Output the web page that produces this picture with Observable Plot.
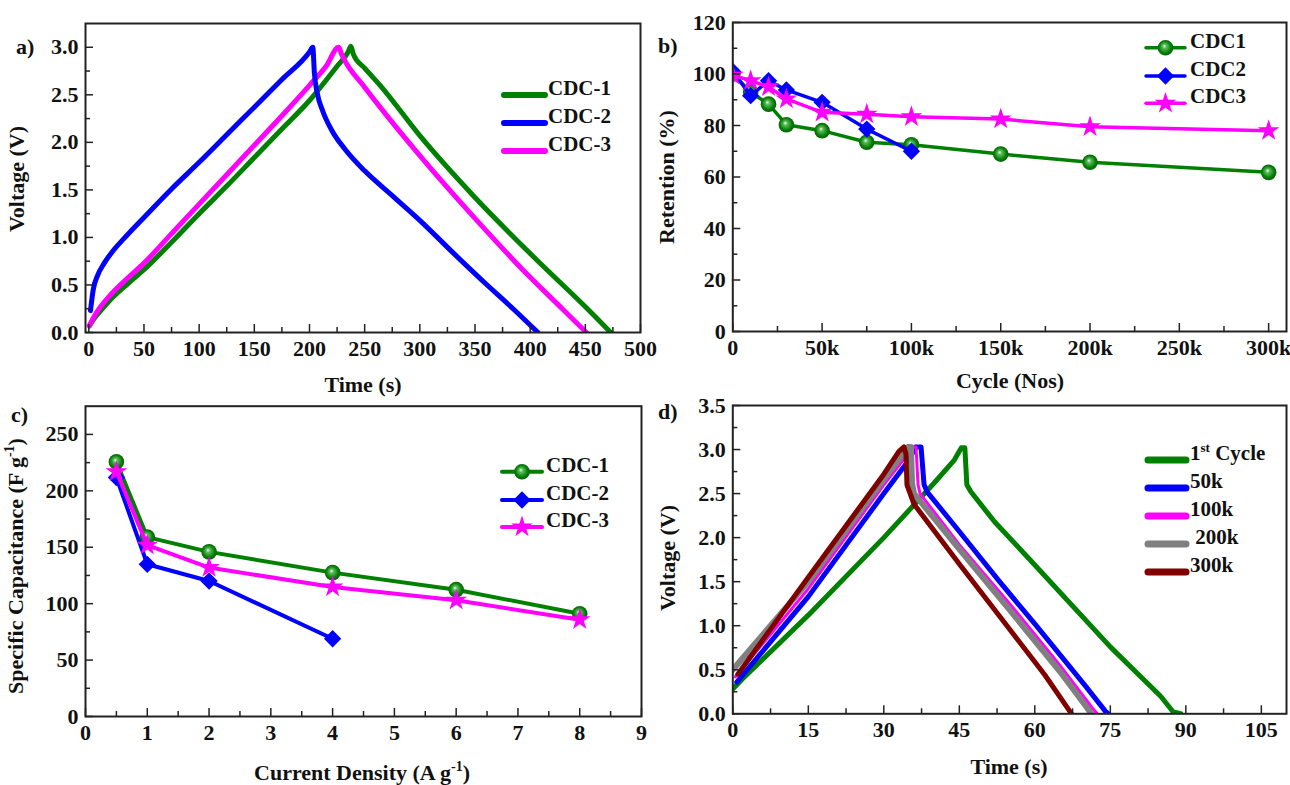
<!DOCTYPE html>
<html><head><meta charset="utf-8">
<script src="https://cdn.jsdelivr.net/npm/d3@7"></script>
<script src="https://cdn.jsdelivr.net/npm/@observablehq/plot@0.6"></script>
<style>
body{margin:0;background:#fff;}
#wrap{position:relative;width:1290px;height:785px;overflow:hidden;background:#fff;font-family:"Liberation Serif","Times New Roman",serif;}
#wrap svg{position:absolute;max-width:none;}
</style></head><body><div id="wrap"></div>
<script>
// ---------- Panel a: GCD curves (Time s, Voltage V) ----------
const aTimeCDC1 = [0.5, 5, 10, 20, 35, 50, 75, 100, 125, 150, 175, 200, 225, 235, 237.5, 240, 250, 264, 300, 350, 400, 450, 473];
const aVoltCDC1 = [0.07, 0.15, 0.22, 0.35, 0.51, 0.66, 0.95, 1.25, 1.54, 1.84, 2.14, 2.44, 2.80, 2.95, 3.01, 2.92, 2.78, 2.60, 2.07, 1.42, 0.83, 0.27, 0];
const aTimeCDC2 = [1.5, 4, 8, 14, 22, 32, 50, 75, 100, 125, 150, 175, 200, 203, 204.5, 207, 212, 220, 232, 250, 275, 300, 330, 360, 385, 407];
const aVoltCDC2 = [0.23, 0.45, 0.60, 0.73, 0.86, 0.99, 1.21, 1.51, 1.79, 2.08, 2.37, 2.66, 2.95, 3.0, 2.72, 2.52, 2.33, 2.13, 1.93, 1.70, 1.44, 1.18, 0.84, 0.51, 0.245, 0];
const aTimeCDC3 = [0.5, 5, 10, 20, 35, 50, 75, 100, 125, 150, 175, 200, 215, 226.5, 229, 250, 264, 300, 350, 400, 430, 451];
const aVoltCDC3 = [0.07, 0.17, 0.26, 0.40, 0.57, 0.73, 1.04, 1.35, 1.66, 1.97, 2.28, 2.60, 2.80, 3.0, 2.93, 2.58, 2.37, 1.86, 1.20, 0.58, 0.24, 0];

// ---------- Panel b: Retention vs cycles ----------
const bCycleCDC1 = [0, 10000, 20000, 30000, 50000, 75000, 100000, 150000, 200000, 300000];
const bRetCDC1   = [100, 93, 88.3, 80.3, 78, 73.5, 72.5, 68.9, 65.7, 61.8];
const bCycleCDC2 = [0, 10000, 20000, 30000, 50000, 75000, 100000];
const bRetCDC2   = [101, 91.6, 97.4, 93.8, 89, 78.6, 70];
const bCycleCDC3 = [0, 10000, 20000, 30000, 50000, 75000, 100000, 150000, 200000, 300000];
const bRetCDC3   = [99.5, 97.4, 95, 90.3, 85.1, 84.4, 83.4, 82.5, 79.5, 78];

// ---------- Panel c: Specific capacitance vs current density ----------
const cDensity13 = [0.5, 1, 2, 4, 6, 8];
const cCapCDC1   = [225.7, 159, 145.9, 127.5, 112.4, 91];
const cDensity2  = [0.5, 1, 2, 4];
const cCapCDC2   = [211.8, 134.9, 120.1, 68.9];
const cCapCDC3   = [216.9, 151.8, 132, 114.8, 103, 85.8];

// ---------- Panel d: GCD at different cycles ----------
const dTime1st  = [0, 2, 15, 30, 40, 44, 45.4, 46.1, 46.5, 47.3, 52, 60, 75, 85, 87.5, 89];
const dVolt1st  = [0.28, 0.40, 1.12, 2.0, 2.62, 2.88, 3.02, 3.02, 2.60, 2.52, 2.18, 1.69, 0.76, 0.20, 0.02, 0];
const dTime50k  = [0.8, 15, 30, 35, 36.3, 37.4, 38.0, 38.6, 45, 53, 60, 70, 74, 74.6];
const dVolt50k  = [0.36, 1.33, 2.50, 2.88, 3.03, 3.03, 2.60, 2.52, 2.07, 1.50, 1.02, 0.32, 0.03, 0];
const dTime100k = [0.5, 15, 30, 34.5, 35.6, 36.4, 36.8, 37.2, 45, 55, 65, 71.5, 72.4];
const dVolt100k = [0.42, 1.42, 2.60, 2.93, 3.03, 3.03, 2.60, 2.50, 1.92, 1.25, 0.55, 0.06, 0];
const dTime200k = [0, 15, 30, 33.8, 34.8, 35.4, 35.6, 36.0, 45, 55, 65, 70.5, 71.2];
const dVolt200k = [0.50, 1.50, 2.66, 2.95, 3.03, 3.03, 2.62, 2.50, 1.87, 1.18, 0.48, 0.06, 0];
const dTime300k = [1, 15, 30, 33.0, 34.0, 34.4, 34.6, 36, 45, 55, 62, 67.3];
const dVolt300k = [0.45, 1.55, 2.72, 2.98, 3.03, 2.95, 2.60, 2.38, 1.70, 0.96, 0.44, 0];

// ---------- Ticks ----------
const aXTicks = [0, 50, 100, 150, 200, 250, 300, 350, 400, 450, 500];
const aYTicks = [0, 0.5, 1.0, 1.5, 2.0, 2.5, 3.0];
const bXTicks = [0, 50000, 100000, 150000, 200000, 250000, 300000];
const bYTicks = [0, 20, 40, 60, 80, 100, 120];
const cXTicks = [0, 1, 2, 3, 4, 5, 6, 7, 8, 9];
const cYTicks = [0, 50, 100, 150, 200, 250];
const dXTicks = [0, 15, 30, 45, 60, 75, 90, 105];
const dYTicks = [0, 0.5, 1.0, 1.5, 2.0, 2.5, 3.0, 3.5];
const mids = t => t.slice(1).map((v, i) => (v + t[i]) / 2);

const GREEN = "#008000", BLUE = "#0000ff", MAGENTA = "#ff00ff", GRAY = "#808080", MAROON = "#800000";
const rows = (xs, ys) => xs.map((x, i) => ({x, y: ys[i]}));
const FONT = '"Liberation Serif","Times New Roman",serif';
const TICKFS = 22;

const wrap = document.getElementById("wrap");

function panel(o) {
  const plotW = o.width - o.mL - o.mR, plotH = o.height - o.mT - o.mB;
  const tk = {stroke: "#222", strokeWidth: 1.5};
  const svg = Plot.plot({
    width: o.width, height: o.height,
    marginLeft: o.mL, marginRight: o.mR, marginTop: o.mT, marginBottom: o.mB,
    x: {domain: o.xDomain}, y: {domain: o.yDomain},
    style: {fontFamily: FONT, fontWeight: "bold", fontSize: TICKFS + "px", color: "#111", background: "transparent", overflow: "visible"},
    marks: [
      ...o.marks,
      Plot.tickX(o.xTicks, {x: d => d, insetTop: plotH - 8, ...tk}),
      Plot.tickX(mids(o.xTicks), {x: d => d, insetTop: plotH - 5, ...tk}),
      Plot.tickY(o.yTicks, {y: d => d, insetRight: plotW - 8, ...tk}),
      Plot.tickY(mids(o.yTicks), {y: d => d, insetRight: plotW - 5, ...tk}),
      Plot.axisX(o.xTicks, {tickSize: 0, tickPadding: 8, tickFormat: o.xFmt, label: null, fontSize: TICKFS, fontWeight: "bold", fontFamily: FONT}),
      Plot.axisY(o.yTicks, {tickSize: 0, tickPadding: 7, tickFormat: o.yFmt, label: null, fontSize: TICKFS, fontWeight: "bold", fontFamily: FONT}),
      Plot.frame({stroke: "#222", strokeWidth: 2})
    ]
  });
  svg.style.left = o.left + "px";
  svg.style.top = o.top + "px";
  wrap.appendChild(svg);
}

const f1 = d3.format(".1f"), fint = d => String(d);
const lineOpt = (c, w, curve = "linear") => ({x: "x", y: "y", stroke: c, strokeWidth: w, strokeLinejoin: "round", strokeLinecap: "round", curve, clip: true});

// Panel a
panel({
  left: 0, top: 0, width: 650, height: 400, mL: 85, mR: 10, mT: 23, mB: 68,
  xDomain: [-3, 500], yDomain: [0, 3.25], xTicks: aXTicks, yTicks: aYTicks, xFmt: fint, yFmt: f1,
  marks: [
    Plot.line(rows(aTimeCDC1, aVoltCDC1), lineOpt(GREEN, 5, "monotone-x")),
    Plot.line(rows(aTimeCDC3, aVoltCDC3), lineOpt(MAGENTA, 5, "monotone-x")),
    Plot.line(rows(aTimeCDC2, aVoltCDC2), lineOpt(BLUE, 5, "monotone-x"))
  ]
});

// Panel b
const rCirc = 7.8, rDia = 7.8, rStar = 6.8;
panel({
  left: 645, top: 0, width: 645, height: 400, mL: 87.3, mR: 4, mT: 22, mB: 69,
  xDomain: [0, 310000], yDomain: [0, 120], xTicks: bXTicks, yTicks: bYTicks,
  xFmt: d => d === 0 ? "0" : (d / 1000) + "k", yFmt: fint,
  marks: [
    Plot.line(rows(bCycleCDC1, bRetCDC1), lineOpt(GREEN, 3.5)),
    Plot.dot(rows(bCycleCDC1, bRetCDC1), {x: "x", y: "y", r: rCirc, fill: "url(#sphereGreen)", clip: true}),
    Plot.line(rows(bCycleCDC2, bRetCDC2), lineOpt(BLUE, 3.5)),
    Plot.dot(rows(bCycleCDC2, bRetCDC2), {x: "x", y: "y", r: rDia, symbol: "diamond2", fill: BLUE, clip: true}),
    Plot.line(rows(bCycleCDC3, bRetCDC3), lineOpt(MAGENTA, 3.5)),
    Plot.dot(rows(bCycleCDC3, bRetCDC3), {x: "x", y: "y", r: rStar, symbol: "star", fill: MAGENTA, clip: true})
  ]
});

// Panel c
panel({
  left: 0, top: 390, width: 650, height: 395, mL: 85, mR: 9, mT: 15.7, mB: 69,
  xDomain: [0, 9], yDomain: [0, 275], xTicks: cXTicks, yTicks: cYTicks, xFmt: fint, yFmt: fint,
  marks: [
    Plot.line(rows(cDensity13, cCapCDC1), lineOpt(GREEN, 4)),
    Plot.dot(rows(cDensity13, cCapCDC1), {x: "x", y: "y", r: rCirc, fill: "url(#sphereGreen)", clip: true}),
    Plot.line(rows(cDensity2, cCapCDC2), lineOpt(BLUE, 4)),
    Plot.dot(rows(cDensity2, cCapCDC2), {x: "x", y: "y", r: rDia, symbol: "diamond2", fill: BLUE, clip: true}),
    Plot.line(rows(cDensity13, cCapCDC3), lineOpt(MAGENTA, 4)),
    Plot.dot(rows(cDensity13, cCapCDC3), {x: "x", y: "y", r: rStar, symbol: "star", fill: MAGENTA, clip: true})
  ]
});

// Panel d
panel({
  left: 645, top: 390, width: 645, height: 395, mL: 87.3, mR: 4, mT: 15, mB: 71.7,
  xDomain: [0, 110], yDomain: [0, 3.5], xTicks: dXTicks, yTicks: dYTicks, xFmt: fint, yFmt: f1,
  marks: [
    Plot.line(rows(dTime1st, dVolt1st), lineOpt(GREEN, 5)),
    Plot.line(rows(dTime50k, dVolt50k), lineOpt(BLUE, 5)),
    Plot.line(rows(dTime100k, dVolt100k), lineOpt(MAGENTA, 3)),
    Plot.line(rows(dTime200k, dVolt200k), lineOpt(GRAY, 6)),
    Plot.line(rows(dTime300k, dVolt300k), lineOpt(MAROON, 5))
  ]
});

// ---------- Overlay: labels, axis titles, legends ----------
const ov = d3.select(wrap).append("svg").attr("width", 1290).attr("height", 785)
  .style("left", "0px").style("top", "0px").style("pointer-events", "none")
  .style("font-family", FONT).style("font-weight", "bold").style("fill", "#111");
const grad = ov.append("defs").append("radialGradient").attr("id", "sphereGreen")
  .attr("cx", "0.5").attr("cy", "0.5").attr("r", "0.55").attr("fx", "0.42").attr("fy", "0.38");
grad.append("stop").attr("offset", "0").attr("stop-color", "#f4fff4");
grad.append("stop").attr("offset", "0.22").attr("stop-color", "#5fbf5f");
grad.append("stop").attr("offset", "0.65").attr("stop-color", "#0a840a");
grad.append("stop").attr("offset", "1").attr("stop-color", "#035503");

// panel letters
[["a)", 16, 54], ["b)", 658, 53], ["c)", 11, 422], ["d)", 658, 419]].forEach(([t, x, y]) =>
  ov.append("text").attr("x", x).attr("y", y).attr("font-size", 22).text(t));

// axis titles
const TFS = 22;
function xTitle(cx, by, parts) {
  const t = ov.append("text").attr("x", cx).attr("y", by).attr("text-anchor", "middle").attr("font-size", TFS);
  parts.forEach(p => t.append("tspan").attr("font-size", p.sup ? 14 : TFS).attr("dy", p.dy || 0).text(p.t));
}
function yTitle(cx, cy, parts) {
  const t = ov.append("text").attr("transform", `translate(${cx},${cy}) rotate(-90)`).attr("text-anchor", "middle")
    .attr("dy", "0.35em").attr("font-size", TFS);
  parts.forEach(p => t.append("tspan").attr("font-size", p.sup ? 14 : TFS).attr("dy", p.dy || 0).text(p.t));
}
yTitle(24, 179, [{t: "Voltage (V)"}]);
xTitle(363, 392, [{t: "Time (s)"}]);
yTitle(674, 177, [{t: "Retention (%)"}]);
xTitle(1010, 388, [{t: "Cycle (Nos)"}]);
yTitle(23, 566, [{t: "Specific Capacitance (F g"}, {t: "-1", sup: true, dy: -9}, {t: ")", dy: 9}]);
xTitle(362, 780, [{t: "Current Density (A g"}, {t: "-1", sup: true, dy: -9}, {t: ")", dy: 9}]);
yTitle(675, 558, [{t: "Voltage (V)"}]);
xTitle(1009, 774, [{t: "Time (s)"}]);

// legends
const LFS = 21;
function legend(items, x1, x2, tx, ys, w, sym) {
  items.forEach((it, i) => {
    const y = ys[i];
    ov.append("line").attr("x1", x1).attr("x2", x2).attr("y1", y).attr("y2", y)
      .attr("stroke", it.color).attr("stroke-width", w).attr("stroke-linecap", "round");
    if (sym) {
      const r = it.sym === "circle" ? rCirc : it.sym === "diamond2" ? rDia : rStar;
      const type = it.sym === "circle" ? d3.symbolCircle : it.sym === "diamond2" ? d3.symbolDiamond2 : d3.symbolStar;
      ov.append("path").attr("transform", `translate(${(x1 + x2) / 2},${y})`)
        .attr("d", d3.symbol(type, Math.PI * r * r)())
        .attr("fill", it.sym === "circle" ? "url(#sphereGreen)" : it.color);
    }
    const t = ov.append("text").attr("x", tx).attr("y", y).attr("dy", "0.35em").attr("font-size", LFS);
    it.parts.forEach(p => t.append("tspan").attr("font-size", p.sup ? 13 : LFS).attr("dy", p.dy || 0).text(p.t));
  });
}
legend([
  {color: GREEN, parts: [{t: "CDC-1"}]},
  {color: BLUE, parts: [{t: "CDC-2"}]},
  {color: MAGENTA, parts: [{t: "CDC-3"}]}
], 504, 545, 548, [95, 123, 151], 6, false);
legend([
  {color: GREEN, sym: "circle", parts: [{t: "CDC1"}]},
  {color: BLUE, sym: "diamond2", parts: [{t: "CDC2"}]},
  {color: MAGENTA, sym: "star", parts: [{t: "CDC3"}]}
], 1146, 1185, 1190, [47.7, 76, 103.3], 3.5, true);
legend([
  {color: GREEN, sym: "circle", parts: [{t: "CDC-1"}]},
  {color: BLUE, sym: "diamond2", parts: [{t: "CDC-2"}]},
  {color: MAGENTA, sym: "star", parts: [{t: "CDC-3"}]}
], 502, 542, 546, [471.7, 500, 527], 4, true);
legend([
  {color: GREEN, parts: [{t: "1"}, {t: "st", sup: true, dy: -8}, {t: " Cycle", dy: 8}]},
  {color: BLUE, parts: [{t: "50k"}]},
  {color: MAGENTA, parts: [{t: "100k"}]},
  {color: GRAY, parts: [{t: "\u00a0200k"}]},
  {color: MAROON, parts: [{t: "300k"}]}
], 1148, 1186, 1190, [460, 488, 516, 544, 572], 7, false);
</script>
</body></html>
